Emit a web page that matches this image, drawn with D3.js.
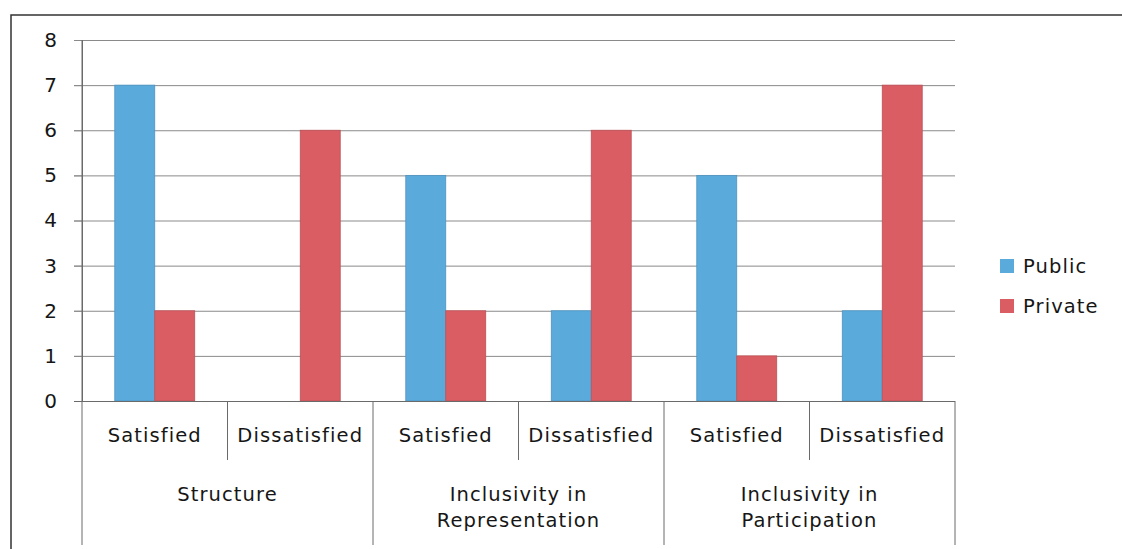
<!DOCTYPE html>
<html><head><meta charset="utf-8">
<script src="https://cdn.jsdelivr.net/npm/d3@7"></script>
<style>
html,body{margin:0;padding:0;background:#fff;}
text{font-family:"DejaVu Sans",sans-serif;fill:#161616;}
</style></head>
<body>
<svg id="c" width="1122" height="549"></svg>
<script>
const groups = ["Structure", "Inclusivity in|Representation", "Inclusivity in|Participation"];
const subLabels = ["Satisfied", "Dissatisfied"];
const seriesNames = ["Public", "Private"];
const publicValues = [7, 0, 5, 2, 5, 2];
const privateValues = [2, 6, 2, 6, 1, 7];
const yTicks = [0, 1, 2, 3, 4, 5, 6, 7, 8];
const colors = ["#5aaadc", "#d95d63"];

const svg = d3.select("#c");
const L = 82, R = 955, T = 40, B = 401;

// outer frame
svg.append("path").attr("d", "M11,549V15H1122").attr("fill", "none").attr("stroke", "#333").attr("stroke-width", 1.5);

const cats = [];
groups.forEach((g, gi) => subLabels.forEach((s, si) => cats.push({key: gi + "_" + si, group: gi, sub: s})));
const data = cats.map((c, i) => ({...c, values: [publicValues[i], privateValues[i]]}));

const x0 = d3.scaleBand().domain(cats.map(c => c.key)).range([L, R]).padding(0);
const x1 = d3.scaleBand().domain(seriesNames).range([0, x0.bandwidth()]).paddingInner(0).paddingOuter(0.82);
const y = d3.scaleLinear().domain([0, 8]).range([B, T]);

// gridlines
svg.append("g").selectAll("line").data(yTicks).join("line")
  .attr("x1", L - 8).attr("x2", R).attr("y1", d => y(d) + 0.5).attr("y2", d => y(d) + 0.5)
  .attr("stroke", "#8a8a8a").attr("stroke-width", 1);

// y axis
const ya = svg.append("g").attr("transform", `translate(${L},0)`)
  .call(d3.axisLeft(y).tickValues(yTicks).tickSize(8).tickPadding(17).tickFormat(d3.format("d")));
ya.select(".domain").attr("stroke", "#6a6a6a");
ya.selectAll(".tick line").attr("stroke", "#8a8a8a");
ya.selectAll("text").attr("font-size", 20).attr("fill", "#161616").style("font-family", "DejaVu Sans");

// bars
const bg = svg.append("g").selectAll("g").data(data).join("g")
  .attr("transform", d => `translate(${x0(d.key)},0)`);
bg.selectAll("rect").data(d => d.values.map((v, i) => ({name: seriesNames[i], v, i}))).join("rect")
  .attr("x", d => x1(d.name)).attr("width", x1.bandwidth())
  .attr("y", d => y(d.v)).attr("height", d => y(0) - y(d.v))
  .attr("fill", d => colors[d.i])
  .attr("stroke", d => d.v > 0 ? d3.color(colors[d.i]).darker(0.4) : "none").attr("stroke-width", 0.8);

// x axis line
svg.append("line").attr("x1", L - 8).attr("x2", R).attr("y1", B + 0.5).attr("y2", B + 0.5).attr("stroke", "#6a6a6a");

// category dividers
const ax = svg.append("g");
const step = x0.step();
d3.range(cats.length + 1).forEach(i => {
  const xx = L + i * step;
  const major = i % 2 === 0;
  ax.append("line").attr("x1", xx).attr("x2", xx).attr("y1", major && i === 0 ? T : B).attr("y2", major ? 545 : 460)
    .attr("stroke", "#6a6a6a").attr("stroke-width", 1);
});

// sub labels
ax.selectAll("text.sub").data(data).join("text").attr("class", "sub")
  .attr("x", d => x0(d.key) + x0.bandwidth() / 2).attr("y", 442)
  .attr("text-anchor", "middle").attr("font-size", 19.5).attr("letter-spacing", 1.1)
  .text(d => d.sub);

// group labels
groups.forEach((g, gi) => {
  const cx = L + (gi * 2 + 1) * step;
  const lines = g.split("|");
  lines.forEach((ln, li) => {
    ax.append("text").attr("x", cx).attr("y", 501 + li * 26)
      .attr("text-anchor", "middle").attr("font-size", 19.5).attr("letter-spacing", 1.1).text(ln);
  });
});

// legend
const lg = svg.append("g");
seriesNames.forEach((s, i) => {
  const cy = 266 + i * 40;
  lg.append("rect").attr("x", 1000).attr("y", cy - 7).attr("width", 14).attr("height", 14).attr("fill", colors[i]);
  lg.append("text").attr("x", 1023).attr("y", cy + 7).attr("font-size", 19.5).attr("letter-spacing", 1.1).text(s);
});
</script>
</body></html>
